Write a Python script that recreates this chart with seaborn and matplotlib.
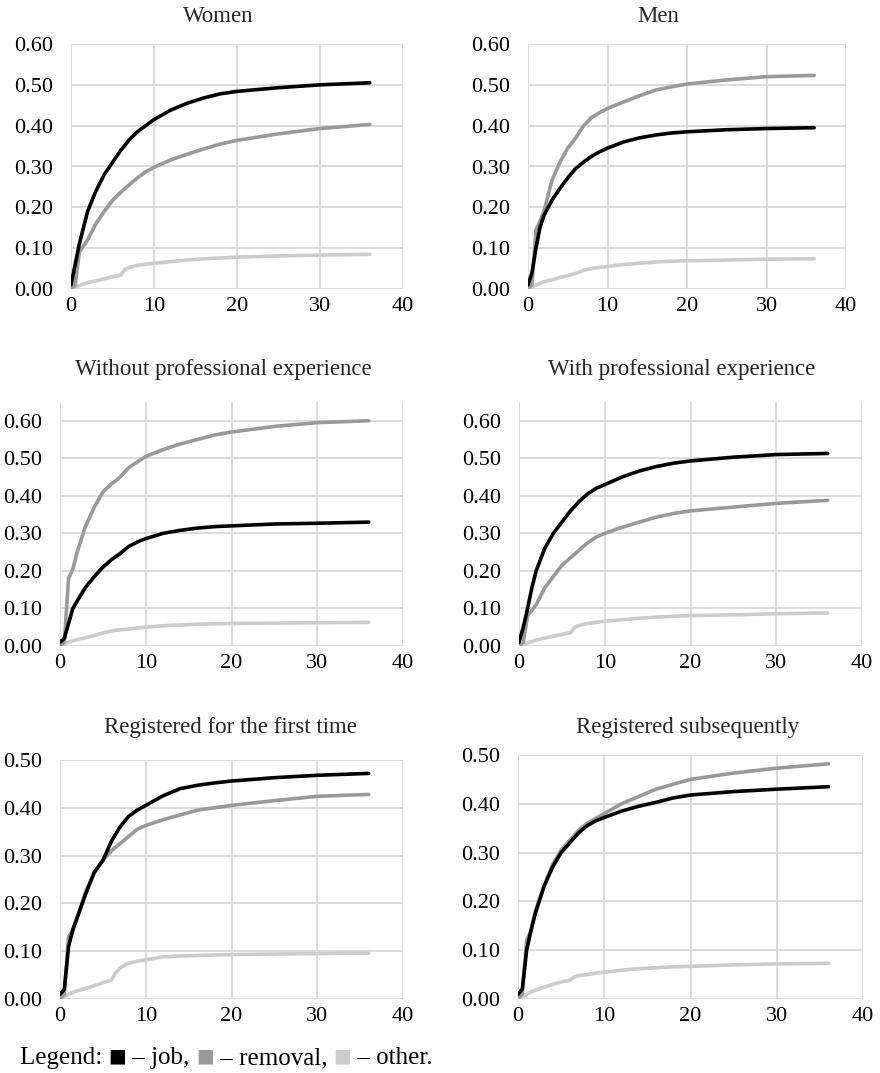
import numpy as np
import pandas as pd
import matplotlib
matplotlib.use("Agg")
import matplotlib.pyplot as plt
import seaborn as sns

# ---------------- data ----------------
months = [0, 0.5, 1, 1.5, 2, 3, 4, 5, 6, 6.5, 7, 8, 9, 10, 12, 14, 16, 18, 20, 25, 30, 36]

women_job = [0.01, 0.06, 0.11, 0.15, 0.19, 0.24, 0.28, 0.31, 0.34, 0.352, 0.365, 0.385, 0.40, 0.415, 0.438, 0.455, 0.468, 0.478, 0.484, 0.493, 0.50, 0.505]
women_removal = [0.0, 0.01, 0.09, 0.105, 0.12, 0.16, 0.19, 0.217, 0.237, 0.246, 0.255, 0.272, 0.287, 0.298, 0.316, 0.33, 0.343, 0.355, 0.364, 0.38, 0.393, 0.403]
women_other = [0.0, 0.004, 0.008, 0.012, 0.016, 0.02, 0.025, 0.03, 0.034, 0.048, 0.053, 0.058, 0.061, 0.063, 0.067, 0.071, 0.074, 0.076, 0.078, 0.081, 0.083, 0.085]

men_job = [0.01, 0.04, 0.10, 0.15, 0.18, 0.217, 0.246, 0.272, 0.295, 0.303, 0.311, 0.325, 0.336, 0.345, 0.36, 0.37, 0.377, 0.382, 0.385, 0.39, 0.393, 0.395]
men_removal = [0.0, 0.01, 0.145, 0.165, 0.19, 0.265, 0.31, 0.345, 0.37, 0.385, 0.40, 0.42, 0.432, 0.442, 0.458, 0.473, 0.487, 0.495, 0.502, 0.512, 0.52, 0.523]
men_other = [0.0, 0.005, 0.01, 0.014, 0.018, 0.022, 0.028, 0.033, 0.038, 0.042, 0.046, 0.05, 0.053, 0.055, 0.06, 0.063, 0.066, 0.068, 0.069, 0.071, 0.073, 0.074]

noexp_job = [0.01, 0.02, 0.06, 0.10, 0.12, 0.157, 0.185, 0.21, 0.23, 0.238, 0.246, 0.265, 0.277, 0.286, 0.30, 0.308, 0.314, 0.318, 0.32, 0.325, 0.327, 0.33]
noexp_removal = [0.0, 0.01, 0.18, 0.205, 0.25, 0.32, 0.37, 0.41, 0.432, 0.44, 0.45, 0.475, 0.49, 0.505, 0.523, 0.538, 0.55, 0.562, 0.57, 0.585, 0.595, 0.60]
noexp_other = [0.0, 0.005, 0.01, 0.014, 0.017, 0.022, 0.028, 0.035, 0.04, 0.042, 0.043, 0.045, 0.048, 0.05, 0.054, 0.056, 0.058, 0.059, 0.06, 0.061, 0.062, 0.063]

exp_job = [0.01, 0.05, 0.10, 0.155, 0.20, 0.26, 0.30, 0.33, 0.36, 0.372, 0.385, 0.405, 0.42, 0.43, 0.45, 0.466, 0.478, 0.487, 0.493, 0.503, 0.51, 0.513]
exp_removal = [0.0, 0.01, 0.08, 0.095, 0.11, 0.155, 0.185, 0.215, 0.235, 0.245, 0.255, 0.275, 0.29, 0.30, 0.316, 0.33, 0.343, 0.353, 0.36, 0.37, 0.38, 0.388]
exp_other = [0.0, 0.004, 0.008, 0.012, 0.016, 0.021, 0.026, 0.031, 0.035, 0.05, 0.055, 0.06, 0.063, 0.066, 0.07, 0.074, 0.077, 0.079, 0.081, 0.083, 0.086, 0.088]

first_job = [0.01, 0.02, 0.11, 0.145, 0.17, 0.22, 0.265, 0.29, 0.33, 0.345, 0.36, 0.382, 0.395, 0.405, 0.425, 0.44, 0.447, 0.452, 0.456, 0.463, 0.468, 0.472]
first_removal = [0.0, 0.01, 0.13, 0.145, 0.17, 0.225, 0.265, 0.29, 0.31, 0.318, 0.325, 0.34, 0.355, 0.363, 0.375, 0.385, 0.395, 0.40, 0.405, 0.415, 0.424, 0.428]
first_other = [0.0, 0.005, 0.01, 0.014, 0.017, 0.022, 0.028, 0.034, 0.04, 0.055, 0.065, 0.075, 0.079, 0.082, 0.088, 0.09, 0.091, 0.092, 0.093, 0.094, 0.095, 0.096]

subs_job = [0.01, 0.02, 0.10, 0.14, 0.175, 0.23, 0.27, 0.30, 0.32, 0.33, 0.34, 0.355, 0.365, 0.372, 0.385, 0.395, 0.403, 0.412, 0.418, 0.425, 0.43, 0.435]
subs_removal = [0.0, 0.01, 0.12, 0.14, 0.18, 0.23, 0.275, 0.305, 0.325, 0.335, 0.345, 0.36, 0.37, 0.38, 0.40, 0.415, 0.43, 0.44, 0.45, 0.463, 0.473, 0.482]
subs_other = [0.0, 0.005, 0.01, 0.014, 0.018, 0.024, 0.03, 0.035, 0.038, 0.045, 0.048, 0.05, 0.053, 0.055, 0.059, 0.062, 0.064, 0.066, 0.067, 0.07, 0.072, 0.073]

titles = ["Women", "Men", "Without professional experience", "With professional experience",
          "Registered for the first time", "Registered subsequently"]
y_max = [0.60, 0.60, 0.65, 0.65, 0.50, 0.50]
x_ticks = [0, 10, 20, 30, 40]

panels = [
    (women_job, women_removal, women_other),
    (men_job, men_removal, men_other),
    (noexp_job, noexp_removal, noexp_other),
    (exp_job, exp_removal, exp_other),
    (first_job, first_removal, first_other),
    (subs_job, subs_removal, subs_other),
]
palette = {"job": "#000000", "removal": "#999999", "other": "#cccccc"}

# ---------------- style ----------------
sns.set_style("white")
plt.rcParams['font.family'] = ['Liberation Serif', 'DejaVu Sans']
FS_TICK = 16
FS_TITLE = 16.5
FS_LEG = 18
GRID = "#d9d9d9"

W, H = 880, 1073
fig = plt.figure(figsize=(W / 100, H / 100), dpi=100)

# pixel boxes: (left, right, top, bottom)
boxes = [
    (71, 403, 44, 289), (528, 846, 44, 289),
    (60, 403, 402, 646), (519, 862, 402, 646),
    (60, 403, 760, 999), (518, 863, 755, 999),
]
title_pos = [(218, 17), (658, 17), (223, 370), (682, 370), (230, 727), (688, 727)]

for i, (vals, box) in enumerate(zip(panels, boxes)):
    l, r, t, b = box
    ax = fig.add_axes([l / W, 1 - b / H, (r - l) / W, (b - t) / H])
    df = pd.DataFrame({
        "month": months * 3,
        "share": list(vals[0]) + list(vals[1]) + list(vals[2]),
        "outcome": ["job"] * len(months) + ["removal"] * len(months) + ["other"] * len(months),
    })
    sns.lineplot(data=df, x="month", y="share", hue="outcome", hue_order=["other", "removal", "job"],
                 palette=palette, linewidth=2.6, ax=ax, legend=False, sort=True,
                 solid_capstyle="round", solid_joinstyle="round")
    ax.set_xlim(0, 40)
    ax.set_ylim(0, y_max[i])
    ax.set_xticks(x_ticks)
    top_tick = 0.60 if y_max[i] > 0.55 else 0.50
    yt = np.round(np.arange(0, top_tick + 0.001, 0.1), 2)
    ax.set_yticks(yt)
    ax.set_yticklabels([f"{v:.2f}" for v in yt])
    ax.set_xticklabels([str(v) for v in x_ticks])
    ax.grid(True, color=GRID, linewidth=1.3)
    ax.set_axisbelow(True)
    for s in ax.spines.values():
        s.set_visible(False)
    ax.tick_params(axis="both", length=0, labelsize=FS_TICK, colors="#000000")
    ax.tick_params(axis="y", pad=13)
    ax.tick_params(axis="x", pad=6)
    ax.set_xlabel("")
    ax.set_ylabel("")
    tx, ty = title_pos[i]
    fig.text(tx / W, 1 - ty / H, titles[i], ha="center", va="center", fontsize=FS_TITLE)

# ---------------- legend line ----------------
fig.canvas.draw()
renderer = fig.canvas.get_renderer()
pieces = [("Legend: ", "#000000", False), ("\u25A0", "#000000", True), (" \u2013 job, ", "#000000", False),
          ("\u25A0", "#999999", True), (" \u2013 removal, ", "#000000", False),
          ("\u25A0", "#cccccc", True), (" \u2013 other.", "#000000", False)]
x = 20
y = 1 - 1058 / H
for txt, col, is_sq in pieces:
    if is_sq:
        t = fig.text(x / W, y + 2.5 / H, txt, color=col, fontsize=13.5, ha="left", va="center",
                     family=['DejaVu Sans'])
    else:
        t = fig.text(x / W, y, txt, color=col, fontsize=FS_LEG, ha="left", va="center",
                     family=['Liberation Serif', 'DejaVu Sans'])
    bb = t.get_window_extent(renderer=renderer)
    x += bb.width

fig.savefig("out.png", dpi=100)
